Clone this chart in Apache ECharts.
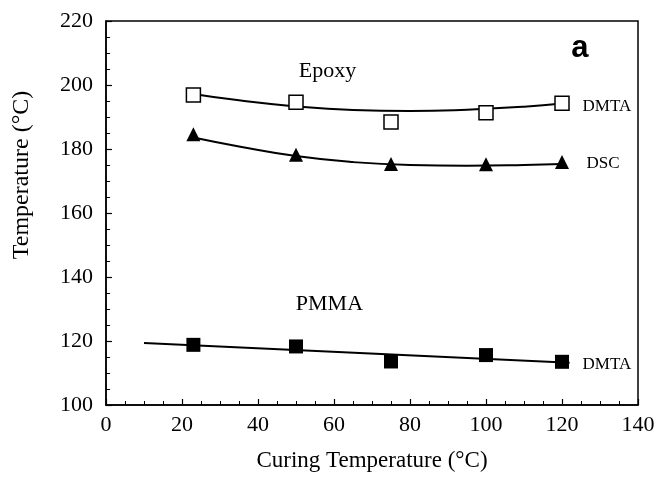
<!DOCTYPE html>
<html>
<head>
<meta charset="utf-8">
<script src="https://cdn.jsdelivr.net/npm/echarts@6/dist/echarts.min.js"></script>
<style>
  html, body { margin: 0; padding: 0; background: #fff; }
  #chart { width: 672px; height: 477px; }
</style>
</head>
<body>
<div id="chart"></div>
<script>
// measured points (x = curing temperature, °C)
const cureTemps = [23, 50, 75, 100, 120];
const epoxyDmta = [196.9, 194.6, 188.4, 191.3, 194.3];
const epoxyDsc = [184.6, 178.2, 175.3, 175.2, 175.9];
const pmmaDmta = [118.8, 118.3, 113.6, 115.6, 113.5];

// fitted curves
const fitDmtaX = [23, 35, 50, 65, 80, 95, 110, 120];
const fitDmtaY = [197.2, 195.2, 193.3, 192.2, 191.9, 192.3, 193.2, 194.2];
const fitDscX = [23, 35, 50, 65, 80, 95, 110, 120];
const fitDscY = [183.6, 180.8, 177.8, 175.9, 175.0, 174.8, 175.0, 175.3];
const fitPmmaX = [10, 122];
const fitPmmaY = [119.4, 113.2];

const pair = (xs, ys) => xs.map((x, i) => [x, ys[i]]);

const serif = 'Liberation Serif';

const chart = echarts.init(document.getElementById('chart'));

const lineStyle = { color: '#000', width: 2 };

const fitSeries = (data) => ({
  type: 'line',
  data: data,
  smooth: true,
  showSymbol: false,
  lineStyle: lineStyle,
  silent: true,
  z: 2
});

const textPoints = (items) => ({
  type: 'scatter',
  symbolSize: 0,
  silent: true,
  itemStyle: { opacity: 1 },
  data: items.map(d => ({
    value: d.value,
    label: {
      show: true,
      formatter: d.name,
      position: 'inside',
      fontFamily: d.family || serif,
      fontWeight: d.weight || 'normal',
      fontSize: d.fs,
      color: '#000'
    }
  })),
  z: 4
});

const option = {
  animation: false,
  grid: {
    left: 106,
    right: 34,
    top: 21,
    bottom: 72,
    show: true,
    borderColor: '#000',
    borderWidth: 1.5
  },
  xAxis: {
    type: 'value',
    min: 0,
    max: 140,
    interval: 20,
    name: 'Curing Temperature (°C)',
    nameLocation: 'middle',
    nameGap: 44,
    nameTextStyle: { fontFamily: serif, fontSize: 23, color: '#000' },
    axisLine: { lineStyle: { color: '#000', width: 1.5 } },
    axisTick: { inside: true, length: 6, lineStyle: { color: '#000', width: 1.2 } },
    minorTick: { show: true, splitNumber: 4, length: 4, lineStyle: { color: '#000', width: 1 } },
    splitLine: { show: false },
    axisLabel: { fontFamily: serif, fontSize: 22, color: '#000', margin: 9 }
  },
  yAxis: {
    type: 'value',
    min: 100,
    max: 220,
    interval: 20,
    name: 'Temperature (°C)',
    nameLocation: 'middle',
    nameGap: 72,
    // title sits above the plot centre in the original
    nameTextStyle: { fontFamily: serif, fontSize: 24, color: '#000', padding: [0, 0, 0, 76] },
    axisLine: { lineStyle: { color: '#000', width: 1.5 } },
    axisTick: { inside: true, length: 6, lineStyle: { color: '#000', width: 1.2 } },
    minorTick: { show: true, splitNumber: 4, length: 4, lineStyle: { color: '#000', width: 1 } },
    splitLine: { show: false },
    axisLabel: { fontFamily: serif, fontSize: 22, color: '#000', margin: 13 }
  },
  series: [
    fitSeries(pair(fitDmtaX, fitDmtaY)),
    fitSeries(pair(fitDscX, fitDscY)),
    fitSeries(pair(fitPmmaX, fitPmmaY)),
    {
      type: 'scatter',
      data: pair(cureTemps, epoxyDmta),
      symbol: 'rect',
      symbolSize: 14,
      itemStyle: { color: '#fff', borderColor: '#000', borderWidth: 1.5, opacity: 1 },
      z: 3
    },
    {
      type: 'scatter',
      data: pair(cureTemps, epoxyDsc),
      symbol: 'triangle',
      symbolSize: 14,
      itemStyle: { color: '#000', opacity: 1 },
      z: 3
    },
    {
      type: 'scatter',
      data: pair(cureTemps, pmmaDmta),
      symbol: 'rect',
      symbolSize: 14,
      itemStyle: { color: '#000', opacity: 1 },
      z: 3
    },
    textPoints([
      { value: [58.3, 204.2], name: 'Epoxy', fs: 22 },
      { value: [58.8, 131.5], name: 'PMMA', fs: 22 },
      { value: [131.8, 193.3], name: 'DMTA', fs: 17 },
      { value: [130.8, 175.4], name: 'DSC', fs: 17 },
      { value: [131.8, 112.6], name: 'DMTA', fs: 17 },
      { value: [124.7, 211.3], name: 'a', fs: 31, family: 'Liberation Sans', weight: 'bold' }
    ])
  ]
};

chart.setOption(option);
</script>
</body>
</html>
